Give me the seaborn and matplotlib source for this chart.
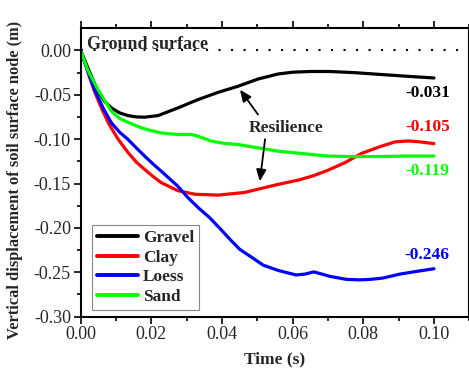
import pandas as pd
import matplotlib
matplotlib.use("Agg")
import matplotlib.pyplot as plt
import seaborn as sns

# Values
gravel_t = [0, 0.0025, 0.0049, 0.0067, 0.0087, 0.011, 0.0134, 0.0158, 0.0181, 0.0219, 0.0275,
            0.0332, 0.0389, 0.0445, 0.0502, 0.0559, 0.060, 0.065, 0.0705, 0.0775, 0.0847, 0.092, 0.10]
gravel_v = [0, -0.024, -0.046, -0.057, -0.0648, -0.0703, -0.0734, -0.0749, -0.0752, -0.0734, -0.0648,
            -0.0554, -0.0472, -0.0404, -0.0322, -0.0265, -0.0245, -0.0237, -0.0237, -0.025, -0.027,
            -0.029, -0.031]

clay_t = [0, 0.002, 0.004, 0.006, 0.008, 0.0106, 0.0134, 0.0158, 0.0181, 0.0205, 0.0228,
          0.0275, 0.0323, 0.0389, 0.0464, 0.052, 0.0558, 0.0617, 0.066, 0.070, 0.075,
          0.0795, 0.085, 0.089, 0.0927, 0.096, 0.10]
clay_v = [0, -0.024, -0.047, -0.066, -0.083, -0.100, -0.115, -0.126, -0.134, -0.142, -0.149,
          -0.158, -0.162, -0.163, -0.160, -0.1546, -0.151, -0.146, -0.141, -0.135, -0.126,
          -0.116, -0.108, -0.103, -0.102, -0.103, -0.105]

loess_t = [0, 0.002, 0.004, 0.0065, 0.0087, 0.011, 0.0134, 0.0158, 0.0181, 0.0205, 0.0228,
           0.0275, 0.0304, 0.0335, 0.0364, 0.040, 0.0423, 0.045, 0.048, 0.0517, 0.056, 0.061,
           0.0635, 0.066, 0.0706, 0.0753, 0.079, 0.0819, 0.0855, 0.0904, 0.095, 0.10]
loess_v = [0, -0.023, -0.045, -0.066, -0.0816, -0.092, -0.1003, -0.110, -0.119, -0.128, -0.136,
           -0.153, -0.166, -0.178, -0.188, -0.203, -0.213, -0.224, -0.232, -0.242, -0.248, -0.253,
           -0.252, -0.2495, -0.2546, -0.258, -0.2585, -0.258, -0.2565, -0.252, -0.249, -0.246]

sand_t = [0, 0.002, 0.0049, 0.0087, 0.011, 0.0134, 0.0158, 0.0181, 0.0228, 0.0275, 0.0313, 0.0332,
          0.037, 0.0408, 0.0445, 0.0502, 0.0559, 0.0611, 0.066, 0.070, 0.077, 0.085, 0.092, 0.10]
sand_v = [0, -0.022, -0.0442, -0.0685, -0.0765, -0.081, -0.085, -0.0884, -0.093, -0.0947, -0.0947,
          -0.0966, -0.1022, -0.1048, -0.106, -0.1097, -0.1135, -0.1155, -0.1175, -0.119, -0.1195,
          -0.1195, -0.119, -0.119]

soils = ["Gravel", "Clay", "Loess", "Sand"]
colors = ["#000000", "#ff0000", "#0000ff", "#00ff00"]
final_labels = ["-0.031", "-0.105", "-0.246", "-0.119"]

frames = []
for name, t, v in [("Gravel", gravel_t, gravel_v), ("Clay", clay_t, clay_v),
                   ("Loess", loess_t, loess_v), ("Sand", sand_t, sand_v)]:
    frames.append(pd.DataFrame({"time": t, "disp": v, "soil": name}))
df = pd.concat(frames, ignore_index=True)

sns.set_style("ticks")
plt.rcParams["font.family"] = ["Liberation Serif", "DejaVu Serif"]
plt.rcParams["axes.unicode_minus"] = False

fig = plt.figure(figsize=(4.69, 3.71), dpi=100)
ax = fig.add_axes([0.172, 0.1464, 0.8286, 0.7774])

sns.lineplot(data=df, x="time", y="disp", hue="soil", hue_order=soils,
             palette=colors, linewidth=2.3, sort=False, estimator=None, ax=ax)
for line in ax.lines:
    line.set_solid_joinstyle("round")

# ground surface reference
ax.axhline(0, color="black", linewidth=1.5, linestyle=(0, (1, 5)), zorder=1)
ax.text(0.0017, 0.0068, "Ground surface", fontsize=13, fontweight="bold", va="center", ha="left")

# final values at right end
label_y = [-0.048, -0.0865, -0.2307, -0.136]
for txt, col, yy in zip(final_labels, colors, label_y):
    ax.text(0.1045, yy, txt, color=col, fontsize=12.5, fontweight="bold", ha="right", va="center")

ax.text(0.0581, -0.0869, "Resilience", fontsize=12.5, fontweight="bold", ha="center", va="center")
arrow = dict(arrowstyle="-|>,head_length=0.7,head_width=0.3", color="black", lw=1.3,
             shrinkA=0, shrinkB=0)
ax.annotate("", xy=(0.0451, -0.0442), xytext=(0.0502, -0.0722), arrowprops=arrow)
ax.annotate("", xy=(0.0507, -0.1475), xytext=(0.0522, -0.1000), arrowprops=arrow)

ax.set_xlim(0, 0.11)
ax.set_ylim(-0.30, 0.025)
ax.set_xticks([0, 0.02, 0.04, 0.06, 0.08, 0.10])
ax.set_xticks([0.01, 0.03, 0.05, 0.07, 0.09, 0.11], minor=True)
ax.set_yticks([0, -0.05, -0.10, -0.15, -0.20, -0.25, -0.30])
ax.set_yticks([-0.025, -0.075, -0.125, -0.175, -0.225, -0.275], minor=True)
ax.set_xticklabels(["0.00", "0.02", "0.04", "0.06", "0.08", "0.10"])
ax.set_yticklabels(["0.00", "-0.05", "-0.10", "-0.15", "-0.20", "-0.25", "-0.30"])
ax.tick_params(which="both", direction="out", width=1.4, labelsize=13, pad=2,
               top=True, right=False, labeltop=False)
ax.tick_params(which="major", length=5)
ax.tick_params(which="minor", length=3)
for side in ["left", "bottom", "top", "right"]:
    ax.spines[side].set_visible(True)
    ax.spines[side].set_linewidth(1.5)
    ax.spines[side].set_color("black")

ax.set_xlabel("Time (s)", fontsize=12.5, fontweight="bold")
ax.set_ylabel("Vertical displacement of soil surface node (m)", fontsize=11.8, fontweight="bold")
ax.xaxis.set_label_coords(0.5, -0.122)
ax.yaxis.set_label_coords(-0.148, 0.474)

leg = ax.legend(loc="lower left", bbox_to_anchor=(0.028, 0.023), borderaxespad=0,
                fancybox=False, framealpha=1, edgecolor="#888888",
                prop={"weight": "bold", "size": 12.5}, handlelength=2.4,
                handletextpad=0.25, labelspacing=0.2, borderpad=0.3)
leg.get_frame().set_linewidth(0.8)
for line in leg.get_lines():
    line.set_linewidth(2.8)

fig.savefig("out.png", dpi=100)
